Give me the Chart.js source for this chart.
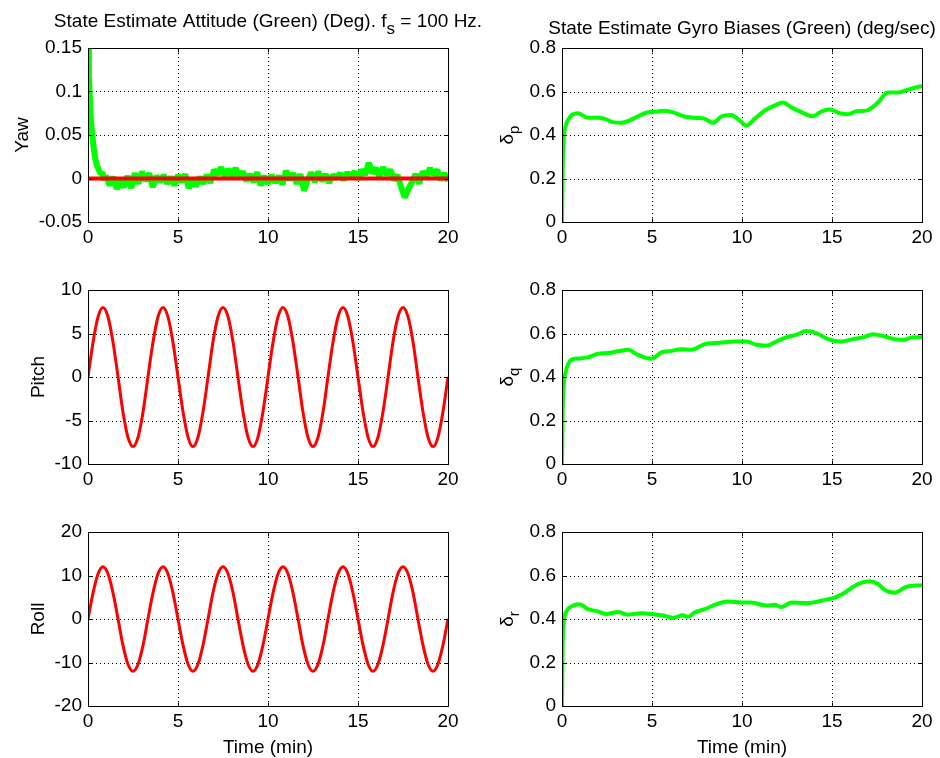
<!DOCTYPE html>
<html>
<head>
<meta charset="utf-8">
<script src="https://cdn.jsdelivr.net/npm/chart.js@4.4.1/dist/chart.umd.min.js"></script>
<style>
  body { margin: 0; background: #fff; }
  #fig { position: relative; width: 940px; height: 758px; overflow: hidden; background: #fff; }
  #fig canvas { position: absolute; }
</style>
</head>
<body>
<div id="fig">
  <canvas id="yawChart" width="510" height="250" style="left:0;top:0"></canvas>
  <canvas id="pitchChart" width="510" height="250" style="left:0;top:250px"></canvas>
  <canvas id="rollChart" width="510" height="258" style="left:0;top:500px"></canvas>
  <canvas id="pBiasChart" width="470" height="250" style="left:470px;top:0"></canvas>
  <canvas id="qBiasChart" width="470" height="250" style="left:470px;top:250px"></canvas>
  <canvas id="rBiasChart" width="470" height="258" style="left:470px;top:500px"></canvas>
</div>
<script>
// tick labels
const timeTicks = [0, 5, 10, 15, 20];
const yawTicks = [-0.05, 0, 0.05, 0.1, 0.15];
const pitchTicks = [-10, -5, 0, 5, 10];
const rollTicks = [-20, -10, 0, 10, 20];
const biasTicks = [0, 0.2, 0.4, 0.6, 0.8];

// yaw: estimate (green) and truth (red)
const yawTime = [0, 0.05, 0.1, 0.15, 0.2, 0.3, 0.4, 0.5, 0.6, 0.7, 0.8, 0.9,
  1.0, 1.2, 1.4, 1.6, 1.8, 2.0, 2.2, 2.4, 2.6, 2.8, 3.0, 3.2, 3.4, 3.6, 3.8,
  4.0, 4.2, 4.4, 4.6, 4.8, 5.0, 5.2, 5.4, 5.6, 5.8, 6.0, 6.2, 6.4, 6.6, 6.8,
  7.0, 7.2, 7.4, 7.6, 7.8, 8.0, 8.2, 8.4, 8.6, 8.8, 9.0, 9.2, 9.4, 9.6, 9.8,
  10.0, 10.2, 10.4, 10.6, 10.8, 11.0, 11.2, 11.4, 11.6, 11.8, 12.0, 12.2, 12.4, 12.6, 12.8,
  13.0, 13.2, 13.4, 13.6, 13.8, 14.0, 14.2, 14.4, 14.6, 14.8, 15.0, 15.2, 15.4, 15.6, 15.8,
  16.0, 16.2, 16.4, 16.6, 16.8, 17.0, 17.2, 17.4, 17.6, 17.8, 18.0, 18.2, 18.4, 18.6, 18.8,
  19.0, 19.2, 19.4, 19.6, 19.8, 20.0];
const yawEst = [0.150, 0.118, 0.095, 0.072, 0.058, 0.038, 0.023, 0.015, 0.010, 0.005, 0.007, -0.002,
  0.003, -0.008, 0.002, -0.012, -0.003, -0.010, 0.003, -0.011, 0.006, -0.006, 0.008, -0.003, 0.006, -0.010, 0.003,
  -0.004, 0.004, -0.006, 0.002, -0.008, 0.004, -0.004, 0.005, -0.011, -0.002, -0.009, 0.002, -0.006, 0.004, -0.005,
  0.010, 0.004, 0.013, 0.002, 0.011, 0.003, 0.012, 0.001, 0.008, -0.003, 0.005, -0.004, 0.007, -0.008, 0.003,
  -0.006, 0.004, -0.005, 0.003, -0.007, 0.009, -0.002, 0.006, -0.006, 0.005, -0.014, -0.002, 0.007, -0.004, 0.008,
  -0.003, 0.005, -0.005, 0.004, 0.000, 0.006, -0.002, 0.007, 0.001, 0.008, -0.001, 0.010, 0.004, 0.018, 0.006,
  0.012, 0.002, 0.013, 0.004, 0.010, -0.002, 0.004, -0.010, -0.022, -0.012, -0.004, 0.005, -0.006, 0.008, 0.002,
  0.012, 0.004, 0.010, -0.002, 0.006, -0.003];
const yawTrueTime = [0, 20];
const yawTrue = [0, 0];

// pitch and roll truth (red)
const attTime = [0, 0.28, 0.56, 0.83, 1.11, 1.39, 1.67, 1.94, 2.22, 2.5, 2.78, 3.06,
  3.33, 3.61, 3.89, 4.17, 4.44, 4.72, 5, 5.28, 5.56, 5.83, 6.11, 6.39,
  6.67, 6.94, 7.22, 7.5, 7.78, 8.06, 8.33, 8.61, 8.89, 9.17, 9.44, 9.72,
  10, 10.28, 10.56, 10.83, 11.11, 11.39, 11.67, 11.94, 12.22, 12.5, 12.78, 13.06,
  13.33, 13.61, 13.89, 14.17, 14.44, 14.72, 15, 15.28, 15.56, 15.83, 16.11, 16.39,
  16.67, 16.94, 17.22, 17.5, 17.78, 18.06, 18.33, 18.61, 18.89, 19.17, 19.44, 19.72, 20];
const pitchTrue = [0, 4, 6.93, 8, 6.93, 4, 0, -4, -6.93, -8, -6.93, -4,
  0, 4, 6.93, 8, 6.93, 4, 0, -4, -6.93, -8, -6.93, -4,
  0, 4, 6.93, 8, 6.93, 4, 0, -4, -6.93, -8, -6.93, -4,
  0, 4, 6.93, 8, 6.93, 4, 0, -4, -6.93, -8, -6.93, -4,
  0, 4, 6.93, 8, 6.93, 4, 0, -4, -6.93, -8, -6.93, -4,
  0, 4, 6.93, 8, 6.93, 4, 0, -4, -6.93, -8, -6.93, -4, 0];
const rollTrue = [0, 6, 10.39, 12, 10.39, 6, 0, -6, -10.39, -12, -10.39, -6,
  0, 6, 10.39, 12, 10.39, 6, 0, -6, -10.39, -12, -10.39, -6,
  0, 6, 10.39, 12, 10.39, 6, 0, -6, -10.39, -12, -10.39, -6,
  0, 6, 10.39, 12, 10.39, 6, 0, -6, -10.39, -12, -10.39, -6,
  0, 6, 10.39, 12, 10.39, 6, 0, -6, -10.39, -12, -10.39, -6,
  0, 6, 10.39, 12, 10.39, 6, 0, -6, -10.39, -12, -10.39, -6, 0];

// gyro bias estimates (green)
const pTime = [0, 0.04, 0.1, 0.17, 0.28, 0.52, 0.89, 1.44, 2.0, 2.37, 2.83, 3.3, 3.76, 4.22, 4.78,
  5.33, 5.7, 6.26, 6.8, 7.37, 7.93, 8.39, 8.85, 9.4, 9.87, 10.24, 10.7, 11.26, 11.8, 12.28,
  12.74, 13.3, 13.94, 14.4, 14.87, 15.43, 15.9, 16.35, 16.9, 17.56, 18.1, 18.67, 19.2, 19.87, 20];
const pBias = [0, 0.25, 0.39, 0.43, 0.46, 0.49, 0.5, 0.479, 0.479, 0.474, 0.459, 0.456, 0.467, 0.486, 0.505,
  0.508, 0.512, 0.502, 0.485, 0.479, 0.474, 0.456, 0.485, 0.492, 0.467, 0.444, 0.474, 0.512, 0.535, 0.55,
  0.527, 0.505, 0.486, 0.508, 0.517, 0.5, 0.495, 0.509, 0.512, 0.55, 0.595, 0.595, 0.608, 0.623, 0.625];
const qTime = [0, 0.04, 0.1, 0.19, 0.52, 0.89, 1.44, 2.0, 2.56, 3.11, 3.67, 4.22, 4.96, 5.52, 6.07,
  6.63, 7.19, 7.93, 8.48, 9.04, 9.6, 10.24, 10.8, 11.35, 11.9, 12.46, 13.0, 13.57, 14.13, 14.78,
  15.52, 16.17, 16.72, 17.28, 17.93, 18.67, 19.04, 19.4, 20];
const qBias = [0, 0.25, 0.37, 0.418, 0.479, 0.485, 0.49, 0.507, 0.51, 0.518, 0.525, 0.502, 0.484, 0.513, 0.52,
  0.528, 0.525, 0.551, 0.556, 0.56, 0.563, 0.563, 0.548, 0.544, 0.563, 0.582, 0.594, 0.611, 0.602, 0.574,
  0.563, 0.574, 0.582, 0.597, 0.586, 0.571, 0.571, 0.582, 0.583];
const rTime = [0, 0.03, 0.08, 0.24, 0.52, 0.98, 1.44, 2.0, 2.46, 3.11, 3.67, 4.4, 5.15, 5.7, 6.17,
  6.7, 7.0, 7.37, 7.93, 8.48, 9.22, 9.96, 10.5, 11.35, 11.8, 12.2, 12.74, 13.5, 14.04, 14.6,
  15.15, 15.7, 16.44, 17.1, 17.56, 17.93, 18.48, 19.13, 20];
const rBias = [0, 0.25, 0.37, 0.435, 0.458, 0.468, 0.445, 0.435, 0.423, 0.432, 0.42, 0.427, 0.421, 0.415, 0.405,
  0.417, 0.41, 0.43, 0.445, 0.465, 0.48, 0.476, 0.476, 0.462, 0.465, 0.455, 0.476, 0.473, 0.477, 0.488,
  0.498, 0.521, 0.561, 0.574, 0.561, 0.533, 0.521, 0.548, 0.555];

const FONT = "'Liberation Sans', Arial, Helvetica, sans-serif";
const TXT = 19;
const GREEN = '#00ff00';
const RED = '#ff0000';

function toXY(xs, ys) {
  return xs.map((x, i) => ({ x: x, y: ys[i] }));
}

function runsWidth(ctx, runs) {
  let w = 0;
  runs.forEach(r => {
    ctx.font = r[1] + 'px ' + FONT;
    w += ctx.measureText(r[0]).width;
  });
  return w;
}

// runs are [text, size, drop] pieces, drawn one after another on a baseline
function drawRuns(ctx, runs, x, y) {
  runs.forEach(r => {
    ctx.font = r[1] + 'px ' + FONT;
    ctx.fillText(r[0], x, y + r[2]);
    x += ctx.measureText(r[0]).width;
  });
}

const axesPlugin = {
  id: 'axes',
  beforeDatasetsDraw(chart) {
    const ctx = chart.ctx, a = chart.chartArea;
    const xs = chart.scales.x, ys = chart.scales.y;
    ctx.save();
    ctx.strokeStyle = '#000';
    ctx.lineWidth = 1;
    ctx.setLineDash([1, 3]);
    ctx.beginPath();
    xs.ticks.forEach(t => {
      const px = Math.round(xs.getPixelForValue(t.value)) + 0.5;
      ctx.moveTo(px, a.bottom);
      ctx.lineTo(px, a.top);
    });
    ys.ticks.forEach(t => {
      const py = Math.round(ys.getPixelForValue(t.value)) + 0.5;
      ctx.moveTo(a.left, py);
      ctx.lineTo(a.right, py);
    });
    ctx.stroke();
    ctx.restore();
  },
  afterDraw(chart, args, opts) {
    const ctx = chart.ctx, a = chart.chartArea;
    const xs = chart.scales.x, ys = chart.scales.y;
    const L = Math.round(a.left) + 0.5, R = Math.round(a.right) + 0.5;
    const T = Math.round(a.top) + 0.5, B = Math.round(a.bottom) + 0.5;
    ctx.save();
    ctx.strokeStyle = '#000';
    ctx.lineWidth = 1;
    ctx.strokeRect(L, T, R - L, B - T);
    // inner tick marks on all four sides
    ctx.beginPath();
    xs.ticks.forEach(t => {
      const px = Math.round(xs.getPixelForValue(t.value)) + 0.5;
      ctx.moveTo(px, B); ctx.lineTo(px, B - 4);
      ctx.moveTo(px, T); ctx.lineTo(px, T + 4);
    });
    ys.ticks.forEach(t => {
      const py = Math.round(ys.getPixelForValue(t.value)) + 0.5;
      ctx.moveTo(L, py); ctx.lineTo(L + 4, py);
      ctx.moveTo(R, py); ctx.lineTo(R - 4, py);
    });
    ctx.stroke();

    ctx.fillStyle = '#000';
    ctx.textAlign = 'left';
    ctx.textBaseline = 'alphabetic';
    const midX = (a.left + a.right) / 2;

    // rotated y label, placed just left of the widest tick label
    ctx.font = TXT + 'px ' + FONT;
    const widest = Math.max(...ys.ticks.map(t => ctx.measureText(t.label).width));
    const base = a.left - 6 - widest - opts.yGap;
    ctx.save();
    ctx.translate(base, (a.top + a.bottom) / 2);
    ctx.rotate(-Math.PI / 2);
    drawRuns(ctx, opts.yLabel, -runsWidth(ctx, opts.yLabel) / 2, 0);
    ctx.restore();

    if (opts.xLabel) {
      const runs = [[opts.xLabel, TXT, 0]];
      drawRuns(ctx, runs, midX - runsWidth(ctx, runs) / 2, a.bottom + 47);
    }
    if (opts.title) {
      drawRuns(ctx, opts.title, midX - runsWidth(ctx, opts.title) / 2, opts.titleY);
    }
    ctx.restore();
  }
};

function line(xs, ys, color, width, mode) {
  return {
    data: toXY(xs, ys),
    borderColor: color,
    borderWidth: width,
    pointRadius: 0,
    fill: false,
    tension: 0,
    cubicInterpolationMode: mode || 'default',
    borderJoinStyle: 'bevel',
    borderCapStyle: 'butt'
  };
}

function makeChart(id, datasets, yTicks, box, labels) {
  const tickFont = { family: FONT, size: TXT };
  new Chart(document.getElementById(id), {
    type: 'line',
    data: { datasets: datasets },
    options: {
      responsive: false,
      animation: false,
      devicePixelRatio: 1,
      layout: { padding: { top: box.top, right: box.right, left: 0, bottom: 0 } },
      plugins: {
        legend: { display: false },
        tooltip: { enabled: false },
        axes: labels
      },
      scales: {
        x: {
          type: 'linear',
          min: timeTicks[0],
          max: timeTicks[timeTicks.length - 1],
          afterBuildTicks: s => { s.ticks = timeTicks.map(v => ({ value: v })); },
          afterFit: s => { s.height = box.bottom; },
          grid: { display: false, drawTicks: false },
          border: { display: false },
          ticks: { color: '#000', font: tickFont, padding: 4, maxRotation: 0, autoSkip: false, callback: v => String(v) }
        },
        y: {
          type: 'linear',
          min: yTicks[0],
          max: yTicks[yTicks.length - 1],
          afterBuildTicks: s => { s.ticks = yTicks.map(v => ({ value: v })); },
          afterFit: s => { s.width = box.left; },
          grid: { display: false, drawTicks: false },
          border: { display: false },
          ticks: { color: '#000', font: tickFont, padding: 6, autoSkip: false, callback: v => String(v) }
        }
      }
    },
    plugins: [axesPlugin]
  });
}

const leftTop = { left: 88, right: 62, top: 48, bottom: 28 };
const leftMid = { left: 88, right: 62, top: 40, bottom: 36 };
const leftBot = { left: 88, right: 62, top: 32, bottom: 52 };
const rightTop = { left: 92, right: 18, top: 48, bottom: 28 };
const rightMid = { left: 92, right: 18, top: 40, bottom: 36 };
const rightBot = { left: 92, right: 18, top: 32, bottom: 52 };

makeChart('yawChart', [
  line(yawTrueTime, yawTrue, RED, 4),
  line(yawTime, yawEst, GREEN, 6)
], yawTicks, leftTop, {
  yLabel: [['Yaw', TXT, 0]], yGap: 11,
  title: [['State Estimate Attitude (Green) (Deg). f', TXT, 0], ['s', 17, 7], [' = 100 Hz.', TXT, 0]],
  titleY: 27
});

makeChart('pitchChart', [
  line(attTime, pitchTrue, RED, 3, 'monotone')
], pitchTicks, leftMid, { yLabel: [['Pitch', TXT, 0]], yGap: 11 });

makeChart('rollChart', [
  line(attTime, rollTrue, RED, 3, 'monotone')
], rollTicks, leftBot, { yLabel: [['Roll', TXT, 0]], yGap: 11, xLabel: 'Time (min)' });

makeChart('pBiasChart', [
  line(pTime, pBias, GREEN, 4, 'monotone')
], biasTicks, rightTop, {
  yLabel: [['\u03b4', TXT, 0], ['p', 15, 6]], yGap: 17,
  title: [['State Estimate Gyro Biases (Green) (deg/sec)', TXT, 0]],
  titleY: 34
});

makeChart('qBiasChart', [
  line(qTime, qBias, GREEN, 4, 'monotone')
], biasTicks, rightMid, { yLabel: [['\u03b4', TXT, 0], ['q', 15, 6]], yGap: 17 });

makeChart('rBiasChart', [
  line(rTime, rBias, GREEN, 4, 'monotone')
], biasTicks, rightBot, {
  yLabel: [['\u03b4', TXT, 0], ['r', 15, 6]], yGap: 17, xLabel: 'Time (min)'
});
</script>
</body>
</html>
